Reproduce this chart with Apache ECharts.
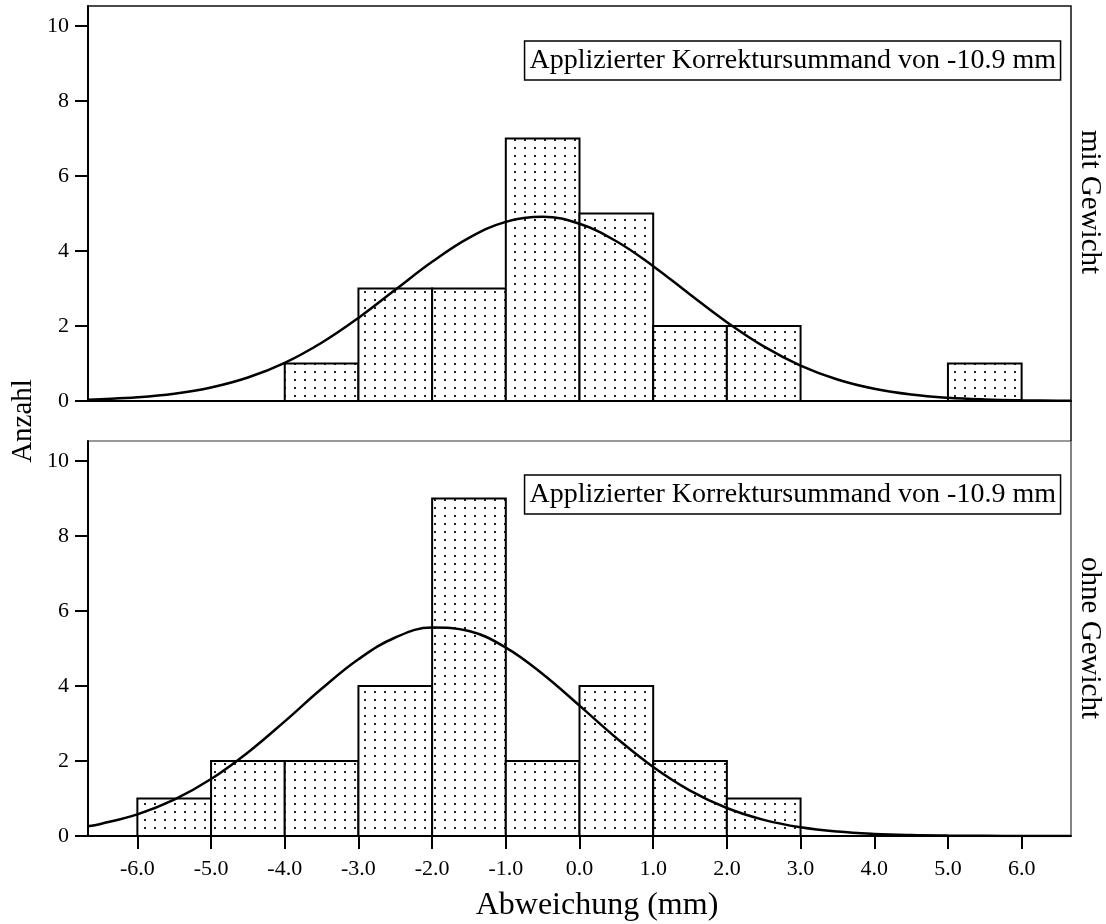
<!DOCTYPE html>
<html>
<head>
<meta charset="utf-8">
<script src="https://cdn.jsdelivr.net/npm/echarts@6/dist/echarts.min.js"></script>
<style>
  html, body { margin: 0; padding: 0; background: #fff; }
  #chart { width: 1106px; height: 924px; }
</style>
</head>
<body>
<div id="chart"></div>
<script>
// Klassengrenzen (Breite 1 mm)
const binStarts = [-6, -5, -4, -3, -2, -1, 0, 1, 2, 3, 4, 5];
const binEnds   = [-5, -4, -3, -2, -1, 0, 1, 2, 3, 4, 5, 6];
// Anzahl je Klasse
const countsMit  = [0, 0, 1, 3, 3, 7, 5, 2, 2, 0, 0, 1];
const countsOhne = [1, 2, 2, 4, 9, 2, 4, 2, 1, 0, 0, 0];
// Normalverteilungskurve
const curveX = [-6.67, -6.5, -6, -5.5, -5, -4.5, -4, -3.5, -3, -2.5, -2, -1.5, -1, -0.5, 0,
  0.5, 1, 1.5, 2, 2.5, 3, 3.5, 4, 4.5, 5, 5.5, 6, 6.5, 6.67];
const curveMit = [0.035, 0.046, 0.097, 0.193, 0.359, 0.625, 1.017, 1.552, 2.215, 2.963, 3.710, 4.350,
  4.775, 4.909, 4.725, 4.259, 3.595, 2.840, 2.102, 1.457, 0.945, 0.574, 0.327, 0.174, 0.087, 0.041,
  0.018, 0.007, 0.005];
const curveOhne = [0.260, 0.322, 0.577, 0.968, 1.518, 2.227, 3.056, 3.924, 4.711, 5.292, 5.559, 5.464,
  5.023, 4.320, 3.475, 2.614, 1.840, 1.211, 0.746, 0.430, 0.232, 0.117, 0.055, 0.024, 0.010, 0.004,
  0.001, 0.000, 0.000];
// Achsenbeschriftung
const xTicks = [-6, -5, -4, -3, -2, -1, 0, 1, 2, 3, 4, 5, 6];
const yTicks = [0, 2, 4, 6, 8, 10];
const boxText = 'Applizierter Korrektursummand von -10.9 mm';

const FONT = '"Liberation Serif", "DejaVu Serif", serif';

// Punktmuster fuer die Balken
const pat = document.createElement('canvas');
pat.width = 10; pat.height = 8;
const pctx = pat.getContext('2d');
pctx.fillStyle = '#fff';
pctx.fillRect(0, 0, 10, 8);
pctx.fillStyle = '#222';
pctx.fillRect(4, 3, 2, 2);

function binData(counts) {
  const out = [];
  counts.forEach(function (c, i) {
    if (c > 0) out.push([binStarts[i], binEnds[i], c]);
  });
  return out;
}
function curveData(ys) {
  return curveX.map(function (x, i) { return [x, ys[i]]; });
}

function renderBar(params, api) {
  const p0 = api.coord([api.value(0), api.value(2)]);
  const p1 = api.coord([api.value(1), 0]);
  return {
    type: 'rect',
    shape: { x: p0[0], y: p0[1], width: p1[0] - p0[0], height: p1[1] - p0[1] },
    style: { fill: { image: pat, repeat: 'repeat' }, stroke: '#000', lineWidth: 2 }
  };
}

function xAxis(idx, labels) {
  return {
    type: 'value', gridIndex: idx, min: -6.67, max: 6.67,
    splitLine: { show: false },
    axisLine: { show: true, onZero: false, lineStyle: { color: '#000', width: 2 } },
    axisTick: { show: labels, customValues: xTicks, length: 13, lineStyle: { color: '#000', width: 2 } },
    axisLabel: {
      show: labels, customValues: xTicks, margin: 22,
      color: '#000', fontSize: 22, fontFamily: FONT,
      formatter: function (v) { return v.toFixed(1); }
    }
  };
}
function yAxis(idx) {
  return {
    type: 'value', gridIndex: idx, min: 0, max: 10.53,
    splitLine: { show: false },
    axisLine: { show: true, onZero: false, lineStyle: { color: '#000', width: 2 } },
    axisTick: { show: true, customValues: yTicks, length: 13, lineStyle: { color: '#000', width: 2 } },
    axisLabel: { customValues: yTicks, margin: 19, color: '#000', fontSize: 22, fontFamily: FONT }
  };
}

const chart = echarts.init(document.getElementById('chart'));
chart.setOption({
  backgroundColor: '#fff',
  animation: false,
  title: [
    {
      text: boxText, right: 45, top: 41,
      borderColor: '#000', borderWidth: 1.5, padding: [6, 5, 5, 5],
      textStyle: { color: '#000', fontSize: 28, fontWeight: 'normal', fontFamily: FONT }
    },
    {
      text: boxText, right: 45, top: 475,
      borderColor: '#000', borderWidth: 1.5, padding: [6, 5, 5, 5],
      textStyle: { color: '#000', fontSize: 28, fontWeight: 'normal', fontFamily: FONT }
    }
  ],
  grid: [
    { left: 88, right: 35, top: 6, height: 395, show: true, borderColor: '#111', borderWidth: 1.5 },
    { left: 88, right: 35, top: 441, height: 395, show: true, borderColor: '#333', borderWidth: 1.2 }
  ],
  xAxis: [xAxis(0, false), xAxis(1, true)],
  yAxis: [yAxis(0), yAxis(1)],
  series: [
    { type: 'custom', xAxisIndex: 0, yAxisIndex: 0, renderItem: renderBar, data: binData(countsMit), z: 2 },
    { type: 'custom', xAxisIndex: 1, yAxisIndex: 1, renderItem: renderBar, data: binData(countsOhne), z: 2 },
    {
      type: 'line', xAxisIndex: 0, yAxisIndex: 0, data: curveData(curveMit), smooth: 0.4,
      symbol: 'none', lineStyle: { color: '#000', width: 2.5 }, z: 3
    },
    {
      type: 'line', xAxisIndex: 1, yAxisIndex: 1, data: curveData(curveOhne), smooth: 0.4,
      symbol: 'none', lineStyle: { color: '#000', width: 2.5 }, z: 3
    }
  ],
  graphic: [
    { type: 'line', shape: { x1: 1071, y1: 401, x2: 1071, y2: 441 }, style: { stroke: '#111', lineWidth: 1.5 } },
    {
      type: 'text', x: 23, y: 421, rotation: Math.PI / 2,
      style: { text: 'Anzahl', fill: '#000', font: '29px ' + FONT, align: 'center', verticalAlign: 'middle' }
    },
    {
      type: 'text', x: 597, y: 906,
      style: { text: 'Abweichung (mm)', fill: '#000', font: '32px ' + FONT, align: 'center', verticalAlign: 'middle' }
    },
    {
      type: 'text', x: 1090, y: 202, rotation: -Math.PI / 2,
      style: { text: 'mit Gewicht', fill: '#000', font: '29px ' + FONT, align: 'center', verticalAlign: 'middle' }
    },
    {
      type: 'text', x: 1090, y: 638, rotation: -Math.PI / 2,
      style: { text: 'ohne Gewicht', fill: '#000', font: '29px ' + FONT, align: 'center', verticalAlign: 'middle' }
    }
  ]
});
</script>
</body>
</html>
